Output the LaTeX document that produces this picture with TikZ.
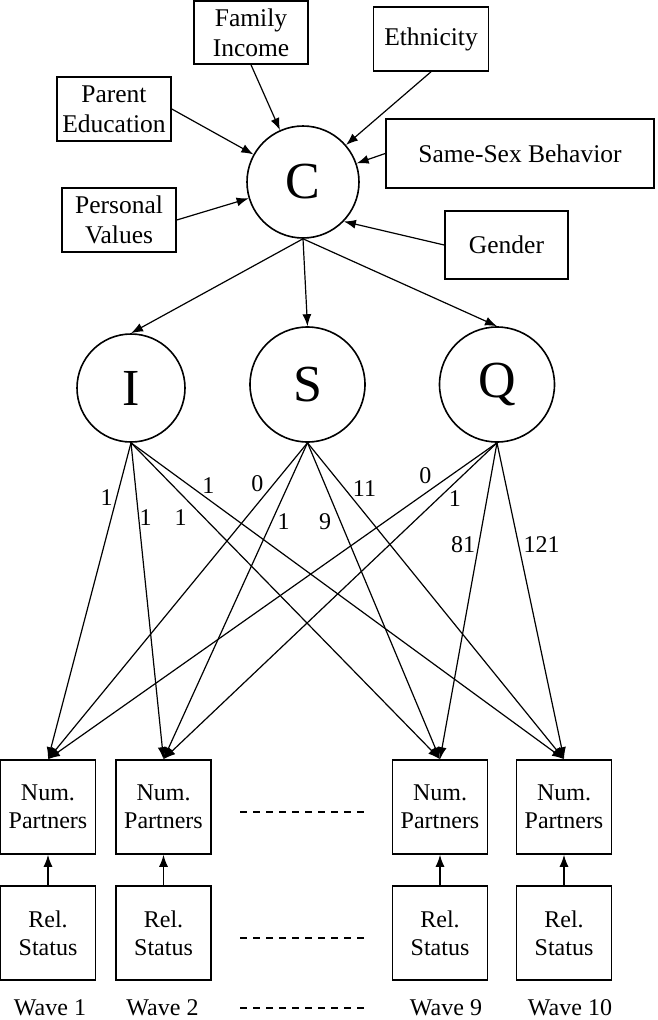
\documentclass[tikz,border=0pt]{standalone}
\usepackage{fontspec}
\setmainfont{Liberation Serif}
\usetikzlibrary{arrows.meta}

\tikzset{
  covbox/.style={draw, line width=1.6pt, align=center, inner sep=0pt, font=\fontsize{25.5}{30}\selectfont},
  obsbox/.style={draw, line width=1.6pt, align=center, inner sep=0pt, minimum width=95pt, minimum height=94pt, font=\fontsize{24}{28}\selectfont},
  latent/.style={circle, draw, line width=1.6pt, minimum size=115pt, inner sep=0pt, font=\fontsize{52}{52}\selectfont},
  regarrow/.style={-{Latex[length=12pt,width=9pt]}, line width=1.2pt},
  load/.style={font=\fontsize{24}{24}\selectfont, inner sep=0pt},
  wave/.style={font=\fontsize{24}{24}\selectfont, inner sep=0pt, anchor=base},
  etc/.style={dash pattern=on 7pt off 6pt, line width=1.5pt}
}

\begin{document}
\begin{tikzpicture}[x=1pt,y=-1pt]
\useasboundingbox (0,0) rectangle (657,1020);
% covariates of C
\node[covbox, minimum width=114pt, minimum height=63pt] (inc) at (251,32.5) {Family\\Income};
\node[covbox, minimum width=115pt, minimum height=64pt] (eth) at (431,39) {Ethnicity};
\node[covbox, minimum width=114pt, minimum height=64pt] (edu) at (114,109) {Parent\\Education};
\node[covbox, minimum width=268pt, minimum height=69pt] (sex) at (520,153.5) {Same-Sex Behavior};
\node[covbox, minimum width=114pt, minimum height=64pt] (val) at (119,220) {Personal\\Values};
\node[covbox, minimum width=123pt, minimum height=68pt] (gen) at (506.5,245) {Gender};

% latent factors
\node[latent, minimum size=112pt] (c) at (303,182) {C};
\node[latent, minimum size=108pt] (i) at (131,388) {I};
\node[latent] (s) at (307.5,384.5) {S};
\node[latent] (q) at (497,384.5) {Q};

% waves
\node[obsbox] (np1) at (48,807) {Num.\\Partners};
\node[obsbox] (np2) at (163.5,807) {Num.\\Partners};
\node[obsbox] (np9) at (440,807) {Num.\\Partners};
\node[obsbox] (np10) at (564,807) {Num.\\Partners};
\node[obsbox] (rs1) at (48,933) {Rel.\\Status};
\node[obsbox] (rs2) at (163.5,933) {Rel.\\Status};
\node[obsbox] (rs9) at (440,933) {Rel.\\Status};
\node[obsbox] (rs10) at (564,933) {Rel.\\Status};
\node[wave] (w1) at (50,1015) {Wave 1};
\node[wave] (w2) at (162.5,1015) {Wave 2};
\node[wave] (w9) at (446,1015) {Wave 9};
\node[wave] (w10) at (570,1015) {Wave 10};

% dashed gaps
\coordinate (ga) at (240,812); \coordinate (gb) at (369,812);
\coordinate (gc) at (240,938); \coordinate (gd) at (369,938);
\coordinate (ge) at (240,1008); \coordinate (gf) at (369,1008);
\draw[etc] (ga) -- (gb);
\draw[etc] (gc) -- (gd);
\draw[etc] (ge) -- (gf);

% predictors of C
\draw[regarrow] (inc.south) -- (c);
\draw[regarrow] (eth.south) -- (c);
\draw[regarrow] (edu.east) -- (c);
\draw[regarrow] (sex.west) -- (c);
\draw[regarrow] (val.east) -- (c);
\draw[regarrow] (gen.west) -- (c.-44);

\draw[regarrow] (c.south) -- (i.north);
\draw[regarrow] (c.south) -- (s.north);
\draw[regarrow] (c.south) -- (q.north);

% loadings
\draw[regarrow] (i.south) -- node[load, pos=.172, xshift=-10pt]{1} (np1.north);
\draw[regarrow] (i.south) -- node[load, pos=.235, xshift=7pt]{1} (np2.north);
\draw[regarrow] (i.south) -- node[load, pos=.235, xshift=-23pt]{1} (np9.north);
\draw[regarrow] (i.south) -- node[load, pos=.135, xshift=19pt]{1} (np10.north);
\draw[regarrow] (s.south) -- node[load, pos=.13, xshift=-16.5pt]{0} (np1.north);
\draw[regarrow] (s.south) -- node[load, pos=.25, xshift=12pt]{1} (np2.north);
\draw[regarrow] (s.south) -- node[load, pos=.25, xshift=-15.5pt]{9} (np9.north);
\draw[regarrow] (s.south) -- node[load, pos=.146, xshift=19.5pt]{11} (np10.north);
\draw[regarrow] (q.south) -- node[load, pos=.104, xshift=-25pt]{0} (np1.north);
\draw[regarrow] (q.south) -- node[load, pos=.177, xshift=17pt]{1} (np2.north);
\draw[regarrow] (q.south) -- node[load, pos=.321, xshift=-15.5pt]{81} (np9.north);
\draw[regarrow] (q.south) -- node[load, pos=.321, xshift=23pt]{121} (np10.north);

% time-varying covariate
\draw[regarrow] (rs1.north) -- (np1.south);
\draw[regarrow] (rs2.north) -- (np2.south);
\draw[regarrow] (rs9.north) -- (np9.south);
\draw[regarrow] (rs10.north) -- (np10.south);
\end{tikzpicture}
\end{document}
